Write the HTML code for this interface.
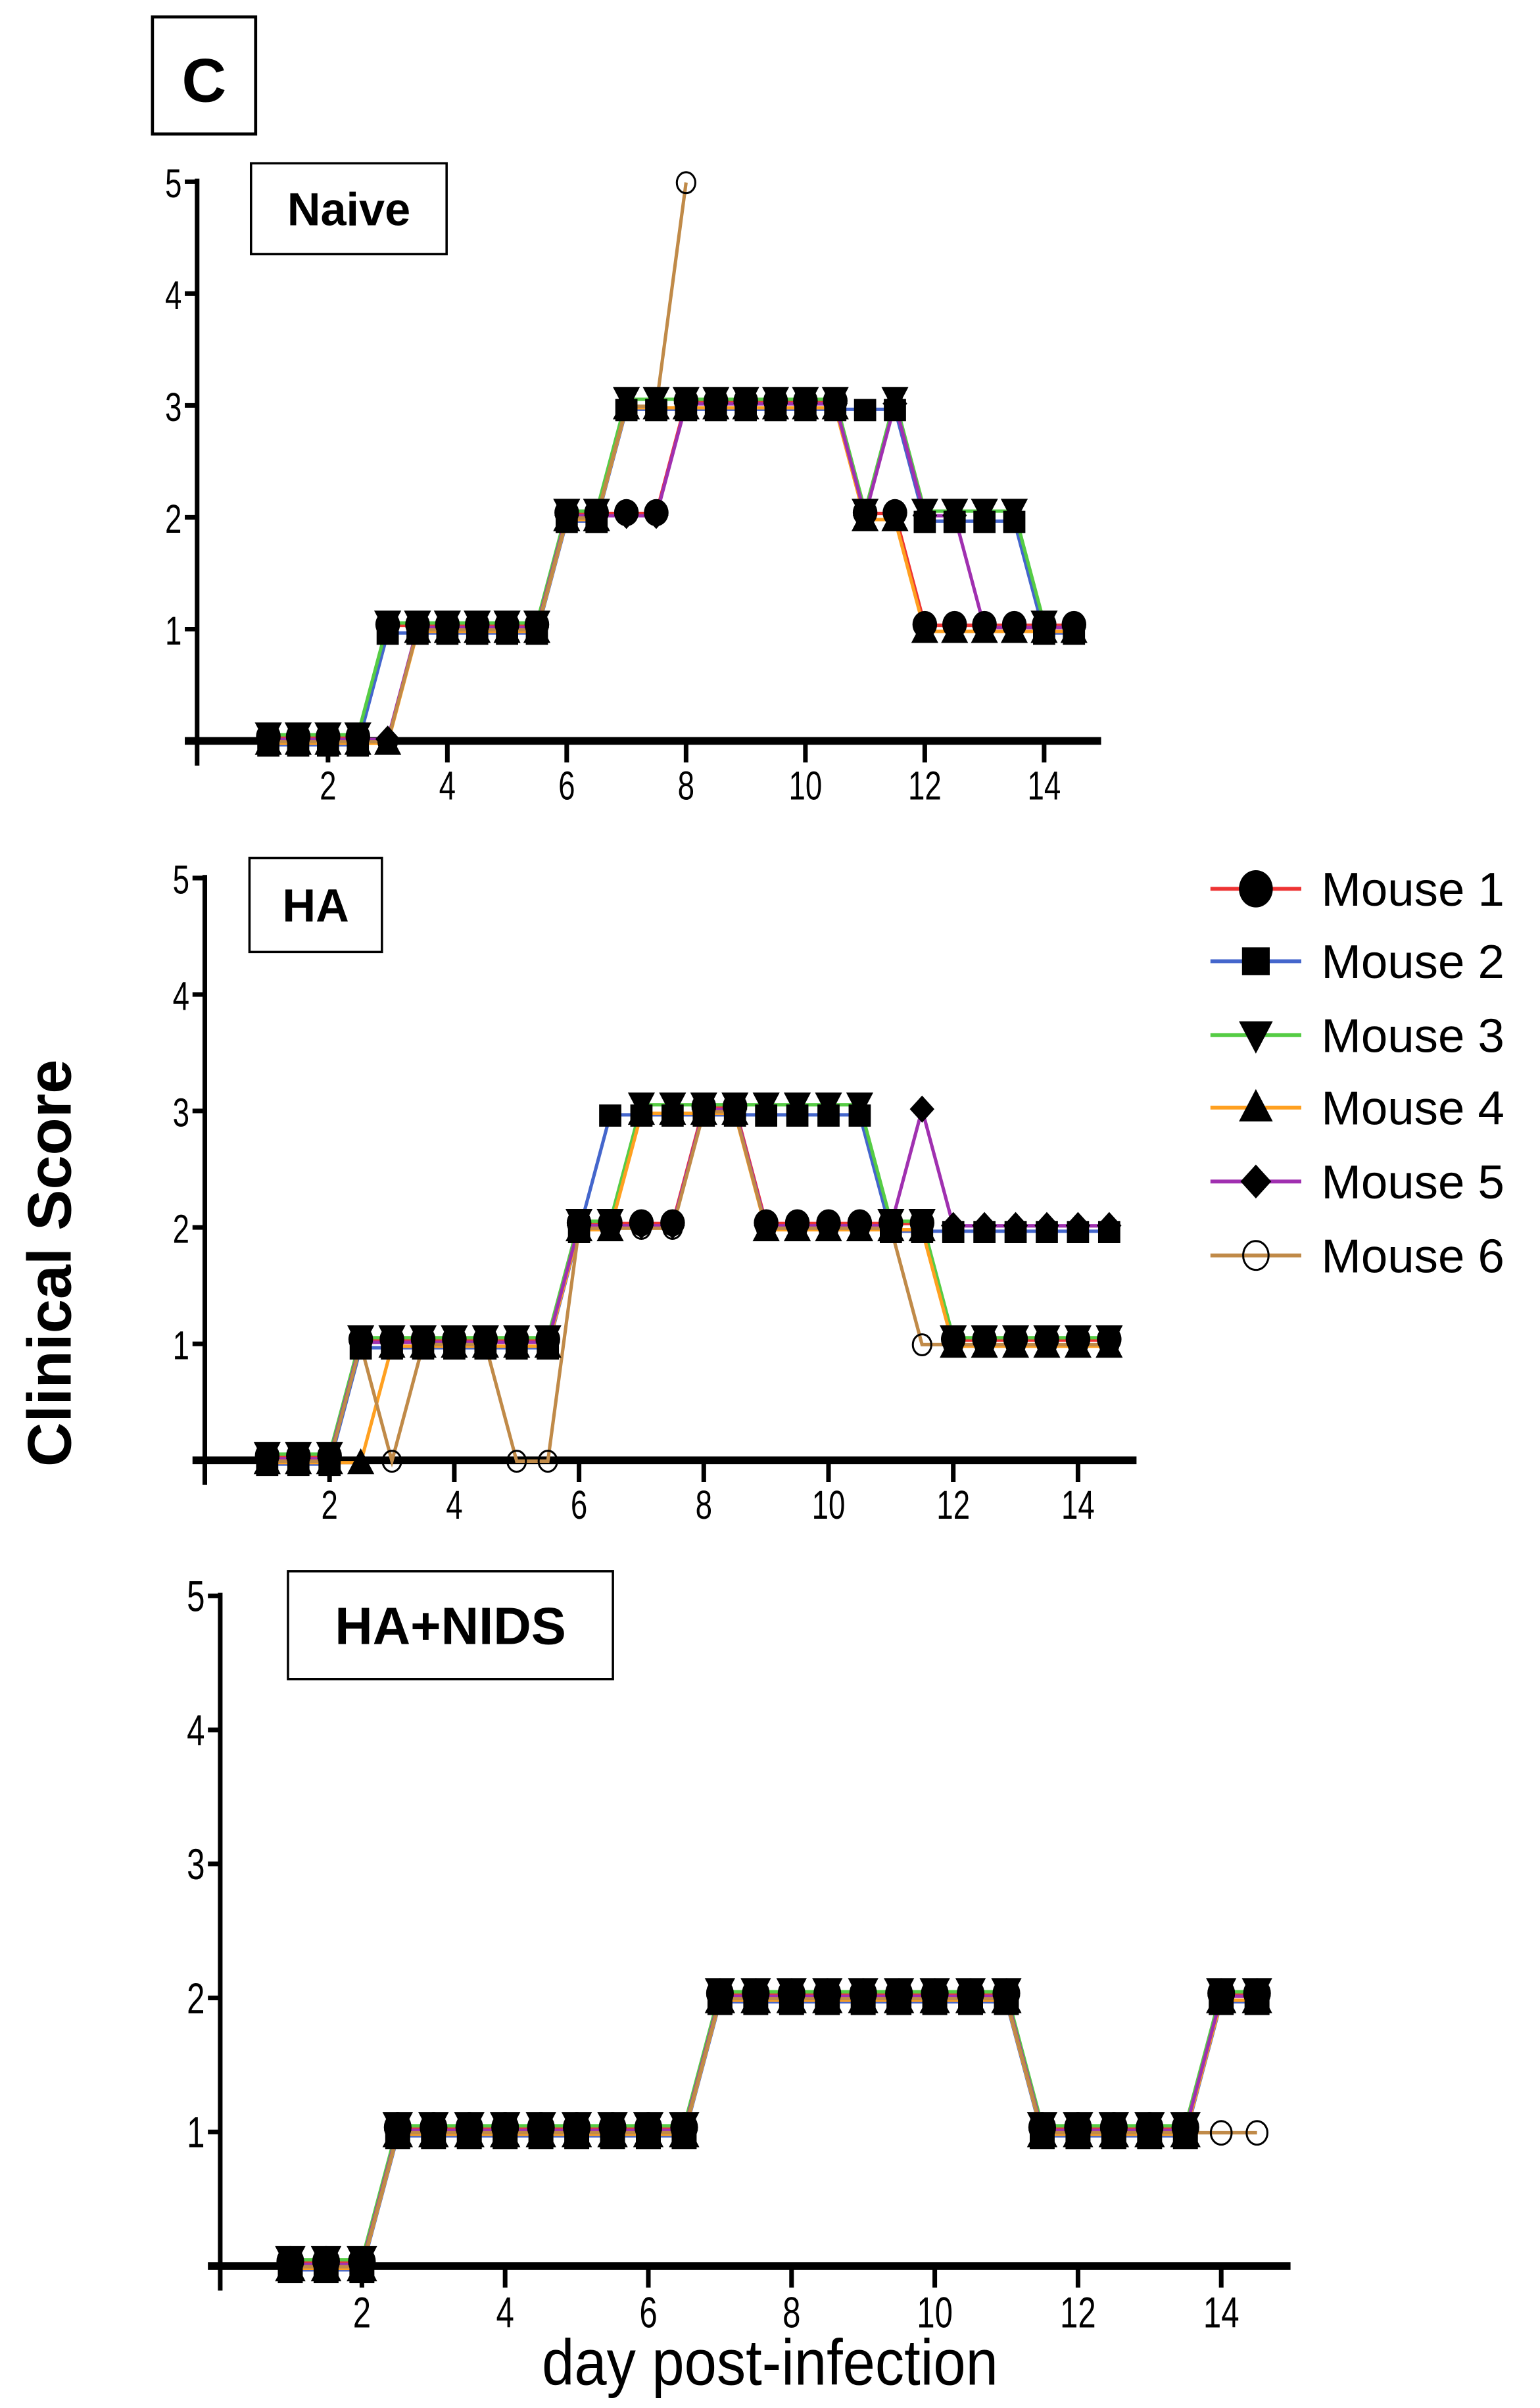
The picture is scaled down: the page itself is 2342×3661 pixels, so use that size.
<!DOCTYPE html>
<html><head><meta charset="utf-8"><style>
html,body{margin:0;padding:0;background:#fff;}
svg{display:block;}
text{font-family:"Liberation Sans",sans-serif;}
</style></head><body>
<svg id="s" width="2342" height="3661" viewBox="0 0 1000 1563.2" xmlns="http://www.w3.org/2000/svg">
<rect width="1000" height="1563.2" fill="#fff"/>
<rect x="99" y="11" width="67" height="76" fill="none" stroke="#000" stroke-width="2"/>
<text x="132.5" y="66" font-size="40" font-weight="bold" text-anchor="middle">C</text>
<text transform="translate(46,820) rotate(-90)" font-size="40" font-weight="bold" text-anchor="middle">Clinical Score</text>
<text transform="translate(500,1548) scale(0.9,1)" font-size="42" text-anchor="middle">day post-infection</text>
<g id="g"></g>
</svg>
<script>
var out='';
var cols=['#ee3333','#4466cc','#55cc44','#ffa020','#a030b0','#c08a48'];
var offs=[-2.5,2.5,-4,1.5,-1,0.5];
function mk(t,x,y,s){s=s||7;
 if(t==0)return '<ellipse cx="'+x+'" cy="'+y+'" rx="'+s+'" ry="'+(s*1.1)+'" fill="#000"/>';
 if(t==1)return '<rect x="'+(x-s*0.9)+'" y="'+(y-s*0.9)+'" width="'+1.8*s+'" height="'+1.8*s+'" fill="#000"/>';
 if(t==2)return '<polygon points="'+(x-s*1.1)+','+(y-s*0.9)+' '+(x+s*1.1)+','+(y-s*0.9)+' '+x+','+(y+s*1.2)+'" fill="#000"/>';
 if(t==3)return '<polygon points="'+(x-s*1.1)+','+(y+s*0.9)+' '+(x+s*1.1)+','+(y+s*0.9)+' '+x+','+(y-s*1.2)+'" fill="#000"/>';
 if(t==4)return '<polygon points="'+x+','+(y-s*1.1)+' '+(x+s)+','+y+' '+x+','+(y+s*1.1)+' '+(x-s)+','+y+'" fill="#000"/>';
 return '<ellipse cx="'+x+'" cy="'+y+'" rx="'+(s*0.75)+'" ry="'+(s*0.85)+'" fill="none" stroke="#000" stroke-width="1.3"/>';
}
function lbl(x,y,fs,t,anc){return '<text transform="translate('+x+','+y+') scale(0.75,1)" font-size="'+fs+'" text-anchor="'+anc+'">'+t+'</text>';}
function panel(P){
 var X=function(d){return P.x2+(d-2)*P.dx;}, Y=function(v){return P.y0-(P.y0-P.y5)*v/5;};
 out+='<line x1="'+P.ax+'" y1="'+(P.y5-2)+'" x2="'+P.ax+'" y2="'+(P.y0+16)+'" stroke="#000" stroke-width="3"/>';
 out+='<line x1="'+(P.ax-8)+'" y1="'+P.y0+'" x2="'+P.xend+'" y2="'+P.y0+'" stroke="#000" stroke-width="5"/>';
 for(var v=1;v<=5;v++){out+='<line x1="'+(P.ax-8)+'" y1="'+Y(v)+'" x2="'+P.ax+'" y2="'+Y(v)+'" stroke="#000" stroke-width="3"/>';
  out+=lbl(P.ax-10,Y(v)+10,P.fs,v,'end');}
 for(var d=2;d<=14;d+=2){out+='<line x1="'+X(d)+'" y1="'+P.y0+'" x2="'+X(d)+'" y2="'+(P.y0+14)+'" stroke="#000" stroke-width="3"/>';
  out+=lbl(X(d),P.y0+P.fs+12,P.fs,d,'middle');}
 out+='<rect x="'+P.bx+'" y="'+P.by+'" width="'+P.bw+'" height="'+P.bh+'" fill="#fff" stroke="#000" stroke-width="1.5"/>';
 out+='<text x="'+(P.bx+P.bw/2)+'" y="'+(P.by+P.bh/2+P.bf*0.36)+'" font-size="'+P.bf+'" font-weight="bold" text-anchor="middle">'+P.t+'</text>';
 for(var m=0;m<6;m++){var pts=P.d[m].map(function(p){return [X(p[0]),Y(p[1])+offs[m]];});
  out+='<polyline points="'+pts.map(function(p){return p.join(',')}).join(' ')+'" fill="none" stroke="'+cols[m]+'" stroke-width="2.2"/>';}
 [1,2,3,4,0,5].forEach(function(m){P.d[m].forEach(function(p){out+=mk(m,X(p[0]),Y(p[1])+offs[m]*1.2,P.ms);});});
}
function ser(start,vals){return vals.map(function(v,i){return [start+i*0.5,v];});}
var nv=[
 ser(1,[0,0,0,0,1,1,1,1,1,1,2,2,2,2,3,3,3,3,3,3,2,2,1,1,1,1,1,1]),
 ser(1,[0,0,0,0,1,1,1,1,1,1,2,2,3,3,3,3,3,3,3,3,3,3,2,2,2,2,1,1]),
 ser(1,[0,0,0,0,1,1,1,1,1,1,2,2,3,3,3,3,3,3,3,3,2,3,2,2,2,2,1]),
 ser(1,[0,0,0,0,0,1,1,1,1,1,2,2,3,3,3,3,3,3,3,3,2,2,1,1,1,1,1,1]),
 ser(1,[0,0,0,0,0,1,1,1,1,1,2,2,2,2,3,3,3,3,3,3,2,3,2,2,1,1,1,1]),
 ser(1,[0,0,0,0,0,1,1,1,1,1,2,2,3,3,5])];
panel({t:'Naive',x2:213,dx:38.75,ax:128,y0:481,y5:118,xend:715,fs:26,bx:163,by:106,bw:127,bh:59,bf:30,ms:8,d:nv});
var ha=[
 ser(1,[0,0,0,1,1,1,1,1,1,1,2,2,2,2,3,3,2,2,2,2,2,2,1,1,1,1,1,1]),
 ser(1,[0,0,0,1,1,1,1,1,1,1,2,3,3,3,3,3,3,3,3,3,2,2,2,2,2,2,2,2]),
 ser(1,[0,0,0,1,1,1,1,1,1,1,2,2,3,3,3,3,3,3,3,3,2,2,1,1,1,1,1,1]),
 ser(1,[0,0,0,0,1,1,1,1,1,1,2,2,3,3,3,3,2,2,2,2,2,2,1,1,1,1,1,1]),
 ser(1,[0,0,0,1,1,1,1,1,1,1,2,2,2,2,3,3,2,2,2,2,2,3,2,2,2,2,2,2]),
 ser(1,[0,0,0,1,0,1,1,1,0,0,2,2,2,2,3,3,2,2,2,2,2,1,1,1,1,1,1,1])];
panel({t:'HA',x2:214,dx:40.5,ax:133,y0:948,y5:570,xend:738,fs:26,bx:162,by:557,bw:86,bh:61,bf:30,ms:8,d:ha});
var base=[0,0,0,1,1,1,1,1,1,1,1,1,2,2,2,2,2,2,2,2,2,1,1,1,1,1];
var hn=[];for(var m=0;m<6;m++){hn.push(ser(1,base.concat(m==5?[1,1]:[2,2])));}
panel({t:'HA+NIDS',x2:235,dx:46.5,ax:143,y0:1471,y5:1036,xend:838,fs:28,bx:187,by:1020,bw:211,bh:70,bf:34,ms:9,d:hn});
var ly=[577,624,672,719,767,815];
for(var m=0;m<6;m++){out+='<line x1="786" y1="'+ly[m]+'" x2="845" y2="'+ly[m]+'" stroke="'+cols[m]+'" stroke-width="2.5"/>';
 out+=mk(m,815.5,ly[m],m==0||m==5?11:10);
 out+='<text x="858" y="'+(ly[m]+11)+'" font-size="31">Mouse '+(m+1)+'</text>';}
document.getElementById('g').innerHTML=out;
</script>
</body></html>
